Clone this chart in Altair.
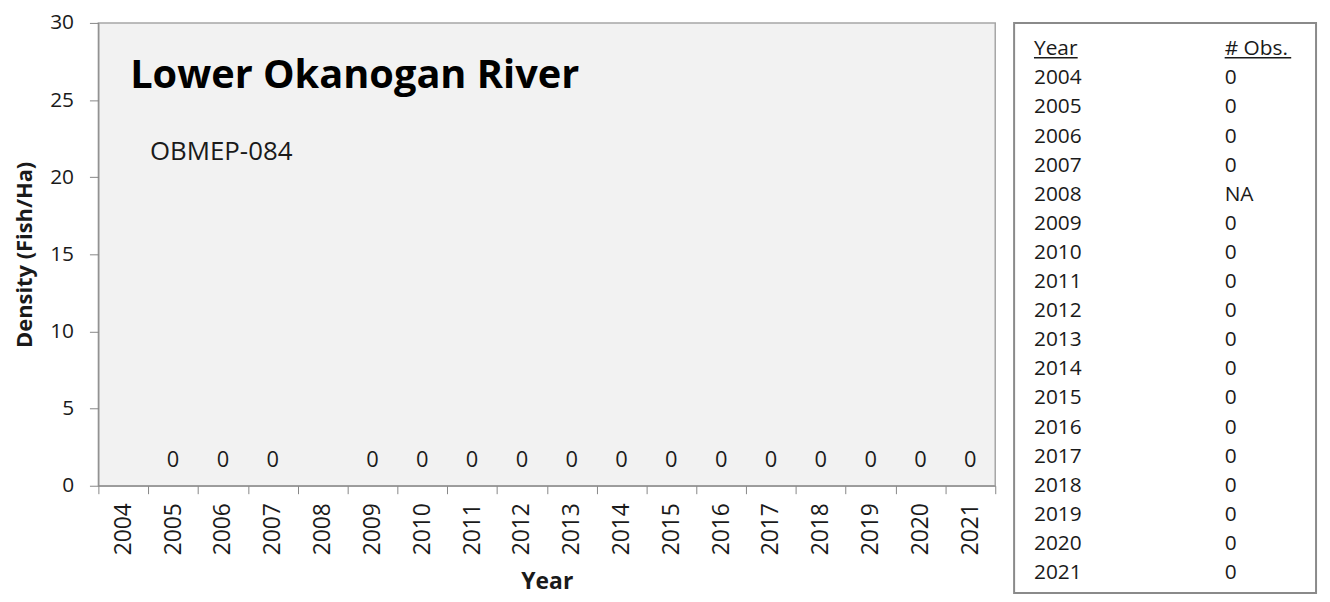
import altair as alt
import pandas as pd

# ---------------- data ----------------
years = [str(y) for y in range(2004, 2022)]
density = [None, 0, 0, 0, None, 0, 0, 0, 0, 0, 0, 0, 0, 0, 0, 0, 0, 0]
obs = ["0", "0", "0", "0", "NA", "0", "0", "0", "0", "0",
       "0", "0", "0", "0", "0", "0", "0", "0"]
y_ticks = [0, 5, 10, 15, 20, 25, 30]

site_title = "Lower Okanogan River"
site_code = "OBMEP-084"
y_title = "Density (Fish/Ha)"
x_title = "Year"
col_headers = ["Year", "# Obs."]

FONT = "Open Sans"
TXT = "#1a1a1a"
AXC = "#868686"

# ---------------- main plot ----------------
df = pd.DataFrame({"Year": years, "Density": density})

x_enc = alt.X(
    "Year:N",
    sort=years,
    scale=alt.Scale(domain=years, paddingInner=0, paddingOuter=0),
    axis=alt.Axis(
        title=x_title, labelAngle=-90, tickBand="extent", tickSize=8,
        labelPadding=9, labelFontSize=23, titleFontSize=23, titleFontWeight="bold",
        titlePadding=16, domainColor=AXC, tickColor=AXC, labelColor=TXT,
        titleColor=TXT, labelFont=FONT, titleFont=FONT, grid=False,
    ),
)
y_enc = alt.Y(
    "Density:Q",
    scale=alt.Scale(domain=[0, 30], nice=False),
    axis=alt.Axis(
        title=y_title, values=y_ticks, tickSize=9, labelPadding=16,
        labelFontSize=21, titleFontSize=22, titleFontWeight="bold",
        titlePadding=13, domainColor=AXC, tickColor=AXC, labelColor=TXT,
        titleColor=TXT, labelFont=FONT, titleFont=FONT, grid=False,
    ),
)

bars = alt.Chart(df).mark_bar(color="#4f81bd").encode(x=x_enc, y=y_enc)

labels = alt.Chart(df).transform_filter(
    "isValid(datum.Density)"
).mark_text(
    font=FONT, fontSize=22, color=TXT, baseline="alphabetic", dy=-19
).encode(
    x=alt.X("Year:N", sort=years),
    y=alt.Y("Density:Q"),
    text=alt.Text("Density:Q", format="d"),
)

title_txt = alt.Chart(pd.DataFrame({"t": [site_title]})).mark_text(
    font=FONT, fontSize=40, fontWeight="bold", color="#000000",
    align="left", baseline="alphabetic",
).encode(x=alt.value(32), y=alt.value(66), text="t:N")

code_txt = alt.Chart(pd.DataFrame({"t": [site_code]})).mark_text(
    font=FONT, fontSize=26, color=TXT, align="left", baseline="alphabetic",
).encode(x=alt.value(52), y=alt.value(138), text="t:N")

left = alt.layer(bars, labels, title_txt, code_txt).properties(
    width=903, height=466,
    view=alt.ViewBackground(fill="#f2f2f2", stroke="#a6a6a6", strokeWidth=1.5),
)

# ---------------- table ----------------
rows = []
for j, h in enumerate(col_headers):
    rows.append({"row": 0, "col": j, "txt": h})
for i, (yr, ob) in enumerate(zip(years, obs)):
    rows.append({"row": i + 1, "col": 0, "txt": yr})
    rows.append({"row": i + 1, "col": 1, "txt": ob})
tdf = pd.DataFrame(rows)

table_text = alt.Chart(tdf).mark_text(
    font=FONT, fontSize=21, color=TXT, align="left", baseline="alphabetic",
).encode(
    x=alt.X("col:Q", scale=alt.Scale(domain=[0, 1], range=[20, 212]), axis=None),
    y=alt.Y("row:Q", scale=alt.Scale(domain=[0, 18], range=[32.5, 560]), axis=None),
    text="txt:N",
)

ul1 = alt.Chart(pd.DataFrame({"c": [0]})).mark_rule(color=TXT, strokeWidth=1.5).encode(
    x=alt.value(20), x2=alt.value(64), y=alt.value(35))
ul2 = alt.Chart(pd.DataFrame({"c": [1]})).mark_rule(color=TXT, strokeWidth=1.5).encode(
    x=alt.value(212), x2=alt.value(279), y=alt.value(35))

right = alt.layer(table_text, ul1, ul2).properties(
    width=304, height=574,
    view=alt.ViewBackground(fill="#ffffff", stroke="#8a8a8a", strokeWidth=2),
)

chart = alt.hconcat(left, right, spacing=19, bounds="flush").properties(
    padding={"left": 5, "top": 1, "right": 5, "bottom": 0},
).configure(font=FONT).configure_view(stroke=None)

chart.save("out.html", embed_options={"renderer": "svg", "actions": False})
